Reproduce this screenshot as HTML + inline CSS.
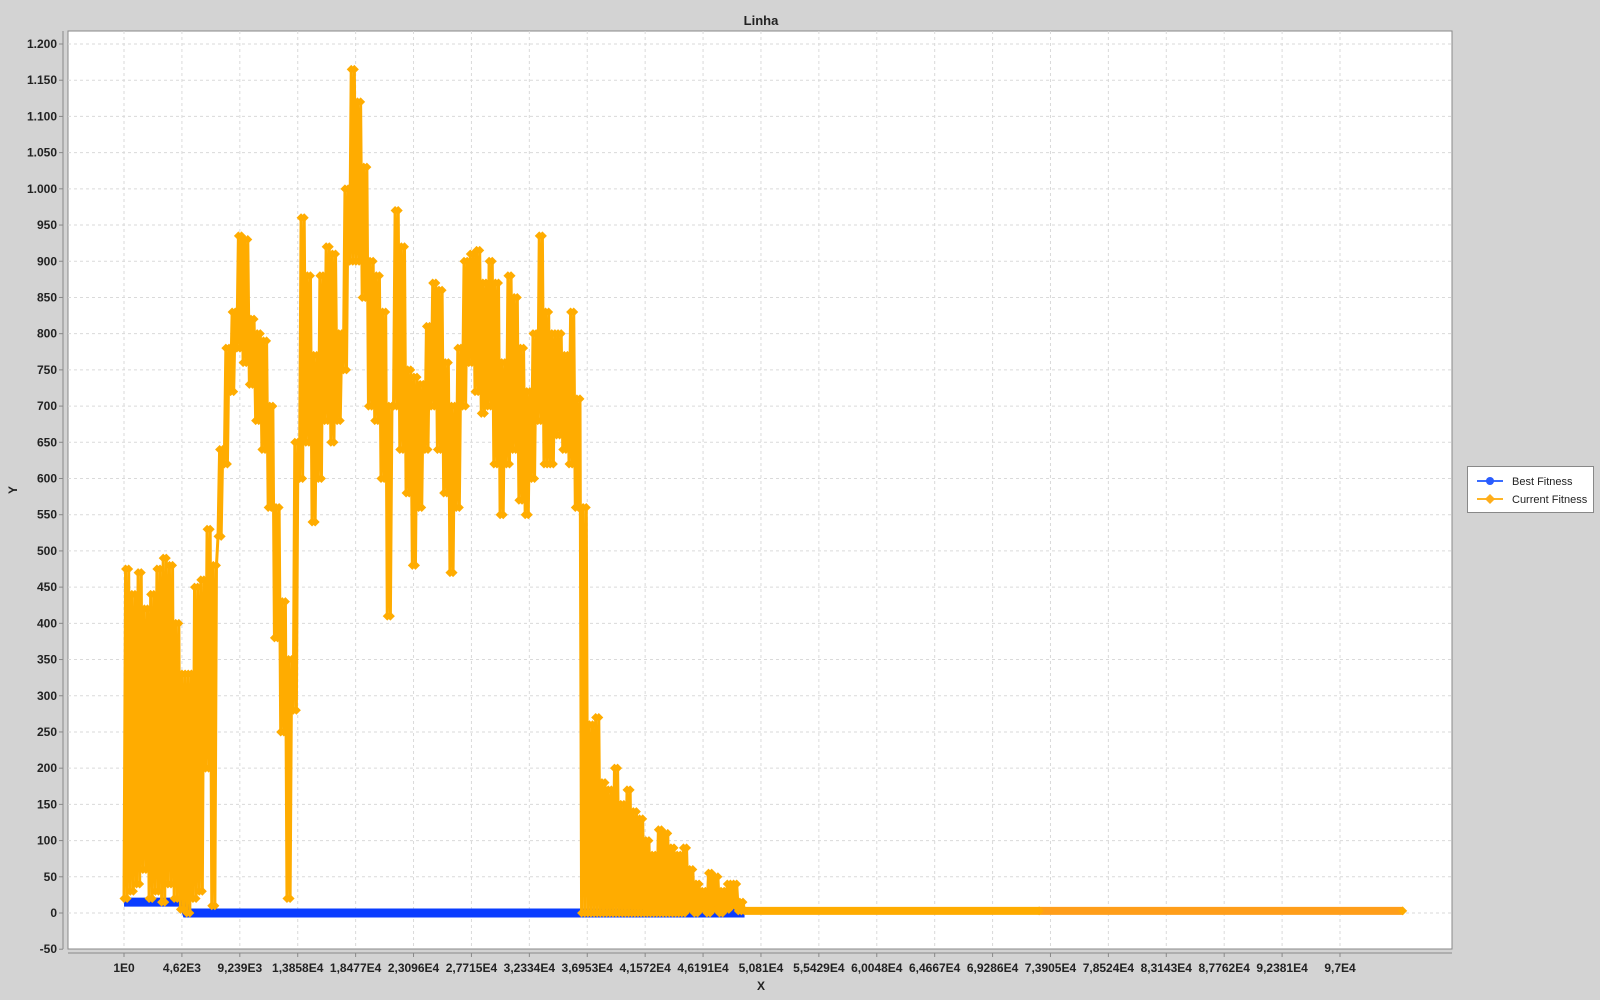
<!DOCTYPE html>
<html><head><meta charset="utf-8"><style>
html,body{margin:0;padding:0;background:#d3d3d3;}
svg{display:block;font-family:"Liberation Sans",sans-serif;}
</style></head><body>
<svg id="chart" width="1600" height="1000">
<rect x="0" y="0" width="1600" height="1000" fill="#d3d3d3"/>
<text x="761" y="25" text-anchor="middle" font-size="13" font-weight="bold" fill="#222">Linha</text>
<rect x="68" y="31" width="1384" height="918" fill="#fff" stroke="#888"/>
<g id="grid"></g>
<g id="yaxis"></g>
<g id="xaxis"></g>
<g id="series"></g>
<text x="761" y="990" text-anchor="middle" font-size="12" font-weight="bold" fill="#222">X</text>
<text x="17" y="490" text-anchor="middle" font-size="12" font-weight="bold" fill="#222" transform="rotate(-90 17 490)">Y</text>
<g>
<rect x="1467.5" y="466.5" width="126" height="46" fill="#fff" stroke="#888"/>
<g>
<line x1="1477" y1="481" x2="1503" y2="481" stroke="#3a6cff" stroke-width="2"/>
<circle cx="1490" cy="481" r="4" fill="#2a5cff"/>
<text x="1512" y="485" font-size="11" fill="#222">Best Fitness</text>
</g>
<g>
<line x1="1477" y1="499" x2="1503" y2="499" stroke="#ffb526" stroke-width="2"/>
<polygon points="1490,494 1495,499 1490,504 1485,499" fill="#ffad1a"/>
<text x="1512" y="503" font-size="11" fill="#222">Current Fitness</text>
</g>
</g>
</svg>
<script>
const yTicks=[-50,0,50,100,150,200,250,300,350,400,450,500,550,600,650,700,750,800,850,900,950,1000,1050,1100,1150,1200];
const xTickValues=[1,4620,9239,13858,18477,23096,27715,32334,36953,41572,46191,50810,55429,60048,64667,69286,73905,78524,83143,87762,92381,97000];
const xTickLabels=["1E0","4,62E3","9,239E3","1,3858E4","1,8477E4","2,3096E4","2,7715E4","3,2334E4","3,6953E4","4,1572E4","4,6191E4","5,081E4","5,5429E4","6,0048E4","6,4667E4","6,9286E4","7,3905E4","7,8524E4","8,3143E4","8,7762E4","9,2381E4","9,7E4"];
const binSize=500;
const currentLo=[20,30,40,60,20,30,15,40,20,5,0,20,30,200,10,520,620,720,780,760,730,680,640,560,380,250,20,280,600,650,540,600,680,650,680,750,900,900,850,700,680,600,410,700,640,580,480,560,640,700,640,580,470,560,700,760,720,690,700,620,550,620,640,570,550,600,680,620,620,660,640,620,560,0,0,0,0,0,0,0,0,0,0,0,0,0,0,0,0,0,5,0,5,0,5,0,5,10,3];
const currentHi=[475,440,470,420,440,475,490,480,400,330,330,450,460,530,480,640,780,830,935,930,820,800,790,700,560,430,350,650,960,880,770,880,920,910,800,1000,1165,1120,1030,900,880,830,700,970,920,750,740,730,810,870,860,760,700,780,900,910,915,870,900,870,760,880,850,780,720,800,935,830,800,800,770,830,710,560,260,270,180,170,200,150,170,140,130,100,80,115,110,90,80,90,60,40,30,55,50,30,40,40,15];
const tailX=[49500,73000,102000];
const tailY=[3,3,3];
const bestX=[1,4700,5000,49500];
const bestY=[15,15,0,0];
const NS="http://www.w3.org/2000/svg";
function xPix(v){return 124+v*(1216/97000);}
function yPix(v){return 913-v*(869/1200);}
function mk(tag,attrs,parent){const e=document.createElementNS(NS,tag);for(const k in attrs)e.setAttribute(k,attrs[k]);parent.appendChild(e);return e;}
const grid=document.getElementById('grid'),ya=document.getElementById('yaxis'),xa=document.getElementById('xaxis'),ser=document.getElementById('series');
mk('line',{x1:63,y1:31,x2:63,y2:949,stroke:'#888'},ya);
mk('line',{x1:68,y1:953,x2:1452,y2:953,stroke:'#888'},xa);
yTicks.forEach(t=>{const y=yPix(t);
 if(y>32&&y<948){const g=mk('line',{x1:68,y1:y,x2:1452,y2:y,stroke:'#dadada','stroke-dasharray':'3,3'},grid);
 
 }
 mk('line',{x1:59,y1:y,x2:63,y2:y,stroke:'#888'},ya);
 const lbl=mk('text',{x:57,y:y+4,'text-anchor':'end','font-size':12,'font-weight':'bold',fill:'#222'},ya);
 lbl.textContent=t>=1000?(t/1000).toFixed(3):String(t);
 
 
});
xTickValues.forEach((t,i)=>{const x=xPix(t);
 const g=mk('line',{x1:x,y1:31,x2:x,y2:949,stroke:'#dadada','stroke-dasharray':'3,3'},grid);
 
 
 mk('line',{x1:x,y1:953,x2:x,y2:957,stroke:'#888'},xa);
 const lbl=mk('text',{x:x,y:972,'text-anchor':'middle','font-size':12,'font-weight':'bold',fill:'#222'},xa);
 lbl.textContent=xTickLabels[i];
 
 
});
// best fitness
let bp=bestX.map((v,i)=>xPix(v)+','+yPix(bestY[i])).join(' ');
const bl=mk('polyline',{points:bp,fill:'none',stroke:'#0a3cff','stroke-width':9},ser);


// current fitness
let pts=[];
currentLo.forEach((lo,i)=>{const hi=currentHi[i];const b=i*binSize;
 pts.push([b,lo],[b+binSize*0.25,hi],[b+binSize*0.5,lo],[b+binSize*0.75,hi]);});
tailX.forEach((v,i)=>pts.push([v,tailY[i]]));
const cl=mk('polyline',{points:pts.map(p=>xPix(p[0])+','+yPix(p[1])).join(' '),fill:'none',stroke:'#ffac00','stroke-width':3,'stroke-linejoin':'round'},ser);


const tl0=mk('line',{x1:xPix(tailX[0]),y1:yPix(tailY[0]),x2:xPix(tailX[1]),y2:yPix(tailY[1]),stroke:'#ffac00','stroke-width':8},ser);


const tl=mk('line',{x1:xPix(tailX[1]),y1:yPix(tailY[1]),x2:xPix(tailX[2]),y2:yPix(tailY[2]),stroke:'#ff9e1a','stroke-width':8},ser);


pts.forEach(p=>{const x=xPix(p[0]),y=yPix(p[1]);
 const d=mk('polygon',{points:`${x},${y-4.5} ${x+4.5},${y} ${x},${y+4.5} ${x-4.5},${y}`,fill:'#ffac00'},ser);
 
 
});
</script>
</body></html>
